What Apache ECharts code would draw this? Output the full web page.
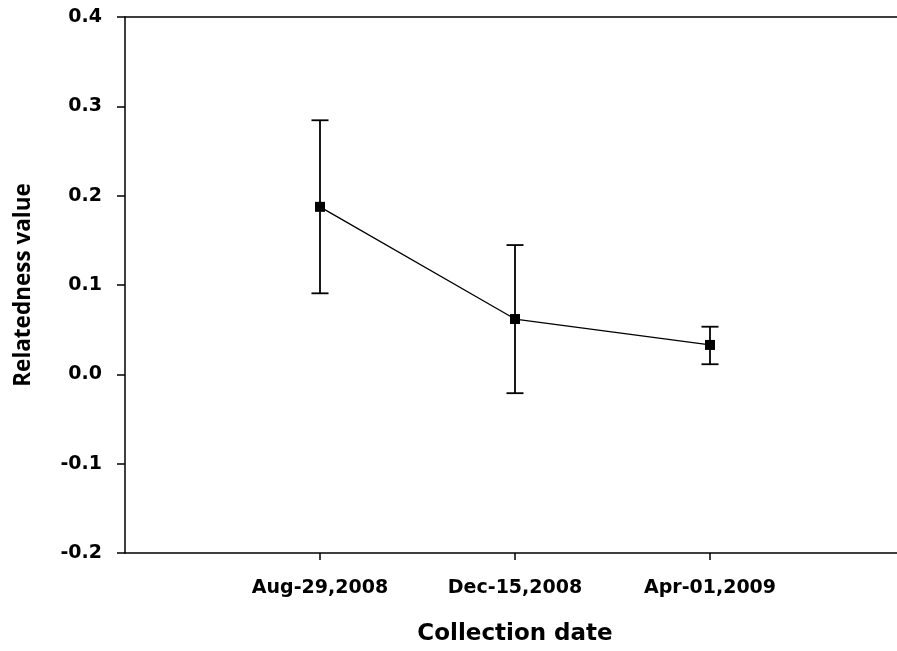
<!DOCTYPE html>
<html>
<head>
<meta charset="utf-8">
<script src="https://cdn.jsdelivr.net/npm/echarts@6/dist/echarts.min.js"></script>
<style>
html,body{margin:0;padding:0;background:#fff;}
#chart{width:897px;height:651px;}
</style>
</head>
<body>
<div id="chart"></div>
<script>
const categories = ['Aug-29,2008', 'Dec-15,2008', 'Apr-01,2009'];
const categoryPositions = [1, 2, 3];
const meanValues = [0.1875, 0.0619, 0.0329];
const upperValues = [0.2844, 0.1447, 0.0533];
const lowerValues = [0.0907, -0.0211, 0.0113];
const yTicks = [-0.2, -0.1, 0.0, 0.1, 0.2, 0.3, 0.4];

const chart = echarts.init(document.getElementById('chart'), null, {renderer: 'canvas'});

const lineData = categoryPositions.map((x, i) => [x, meanValues[i]]);
const errData = categoryPositions.map((x, i) => [x, lowerValues[i], upperValues[i]]);

const option = {
  animation: false,
  backgroundColor: '#ffffff',
  grid: {left: 125, top: 17, width: 780, height: 536, containLabel: false, outerBoundsMode: 'none'},
  xAxis: [{
    type: 'value', min: 0, max: 4, interval: 1,
    position: 'bottom',
    axisLine: {show: true, onZero: false, lineStyle: {color: '#000', width: 1.5}},
    axisTick: {show: true, length: 7, inside: false, customValues: categoryPositions, lineStyle: {color: '#000', width: 1.5}},
    axisLabel: {
      show: true, margin: 26, customValues: categoryPositions,
      fontFamily: 'DejaVu Sans', fontWeight: 'bold', fontSize: 19, color: '#000',
      formatter: v => categories[categoryPositions.indexOf(v)] || ''
    },
    splitLine: {show: false},
    name: 'Collection date', nameLocation: 'middle', nameGap: 70,
    nameTextStyle: {fontFamily: 'DejaVu Sans', fontWeight: 'bold', fontSize: 23, color: '#000'}
  }, {
    type: 'value', min: 0, max: 4, position: 'top',
    axisLine: {show: true, onZero: false, lineStyle: {color: '#000', width: 1.5}},
    axisTick: {show: false}, axisLabel: {show: false}, splitLine: {show: false}
  }],
  yAxis: {
    type: 'value', min: -0.2, max: 0.4, interval: 0.1,
    axisLine: {show: true, onZero: false, lineStyle: {color: '#000', width: 1.5}},
    axisTick: {show: true, length: 8, inside: false, lineStyle: {color: '#000', width: 1.5}},
    axisLabel: {
      margin: 23, fontFamily: 'DejaVu Sans', fontWeight: 'bold', fontSize: 19, color: '#000',
      formatter: v => v.toFixed(1)
    },
    splitLine: {show: false},
    name: 'Relatedness value', nameLocation: 'middle', nameGap: 90, nameRotate: 90,
    nameTextStyle: {fontFamily: 'Open Sans', fontWeight: 'bold', fontSize: 22.5, color: '#000'}
  },
  series: [{
    type: 'custom',
    xAxisIndex: 0,
    data: errData,
    renderItem: function (params, api) {
      const x = api.value(0);
      const lo = api.coord([x, api.value(1)]);
      const hi = api.coord([x, api.value(2)]);
      const hw = 8.5;
      const style = {stroke: '#000', lineWidth: 1.8};
      return {
        type: 'group',
        children: [
          {type: 'line', shape: {x1: lo[0], y1: lo[1], x2: hi[0], y2: hi[1]}, style: style},
          {type: 'line', shape: {x1: hi[0] - hw, y1: hi[1], x2: hi[0] + hw, y2: hi[1]}, style: style},
          {type: 'line', shape: {x1: lo[0] - hw, y1: lo[1], x2: lo[0] + hw, y2: lo[1]}, style: style}
        ]
      };
    },
    z: 2
  }, {
    type: 'line',
    xAxisIndex: 0,
    data: lineData,
    symbol: 'rect', symbolSize: 10,
    lineStyle: {color: '#000', width: 1.3},
    itemStyle: {color: '#000'},
    z: 3
  }]
};
chart.setOption(option);
</script>
</body>
</html>
